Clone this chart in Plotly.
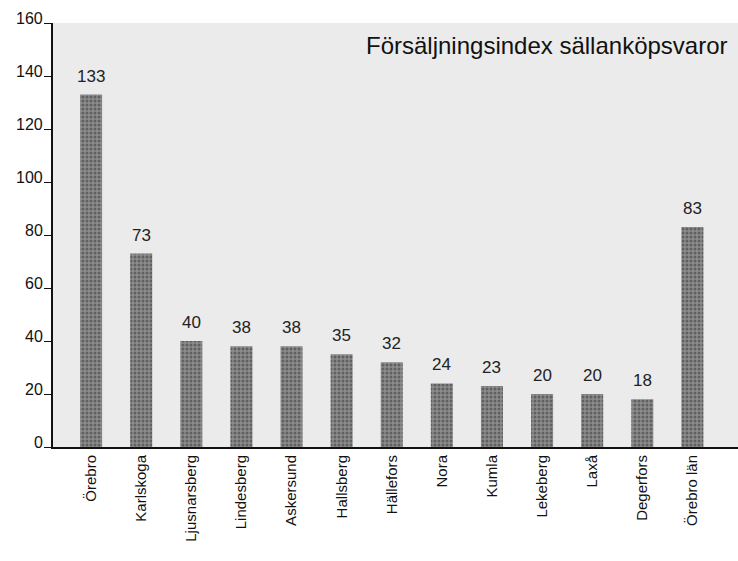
import plotly.graph_objects as go

categories = ["Örebro", "Karlskoga", "Ljusnarsberg", "Lindesberg", "Askersund",
              "Hallsberg", "Hällefors", "Nora", "Kumla", "Lekeberg", "Laxå",
              "Degerfors", "Örebro län"]
values = [133, 73, 40, 38, 38, 35, 32, 24, 23, 20, 20, 18, 83]
y_ticks = [0, 20, 40, 60, 80, 100, 120, 140, 160]
title_text = "Försäljningsindex sällanköpsvaror"

FONT = "Liberation Sans, Arial, sans-serif"

fig = go.Figure(go.Bar(
    x=categories, y=values,
    marker=dict(color="#7a7a7a", line=dict(width=0),
                pattern=dict(shape=".", fgcolor="#333333", bgcolor="#8c8c8c", size=4, solidity=0.45)),
    width=0.44, cliponaxis=False, hoverinfo="skip",
))

annotations = [dict(text=title_text, xref="paper", yref="paper", x=(730 - 53) / 685, y=1 - (45 - 23) / 424,
                    xanchor="right", yanchor="middle", showarrow=False,
                    font=dict(size=24, color="#111", family=FONT))]
# value labels above bars
for c, v in zip(categories, values):
    annotations.append(dict(text=str(v), x=c, y=v, xref="x", yref="y", yanchor="bottom",
                            showarrow=False, yshift=7,
                            font=dict(size=17, color="#222", family=FONT)))
# y tick labels (sit slightly above their tick marks, as in the print)
for t in y_ticks:
    annotations.append(dict(text=str(t), x=0, y=t, xref="paper", yref="y", xanchor="right",
                            yanchor="middle", showarrow=False, xshift=-8, yshift=5,
                            font=dict(size=16, color="#111", family=FONT)))

fig.update_layout(
    width=738, height=561,
    margin=dict(l=53, r=0, t=23, b=114, autoexpand=False),
    paper_bgcolor="white", plot_bgcolor="#ebebeb",
    showlegend=False,
    font=dict(family=FONT, color="#111"),
    annotations=annotations,
)
fig.update_xaxes(range=[-0.76, 12.91], tickangle=-90, showline=True, linecolor="#111", linewidth=2,
                 ticks="", tickfont=dict(size=15, color="#111"), showgrid=False, automargin=False)
fig.update_yaxes(range=[0, 160], tickvals=y_ticks, showticklabels=False, showline=True,
                 linecolor="#111", linewidth=2,
                 ticks="outside", ticklen=7, tickcolor="#111", showgrid=False, zeroline=False,
                 automargin=False)

fig.write_html("out.html", config={"displayModeBar": False},
               post_script="document.body.style.margin='0';")
